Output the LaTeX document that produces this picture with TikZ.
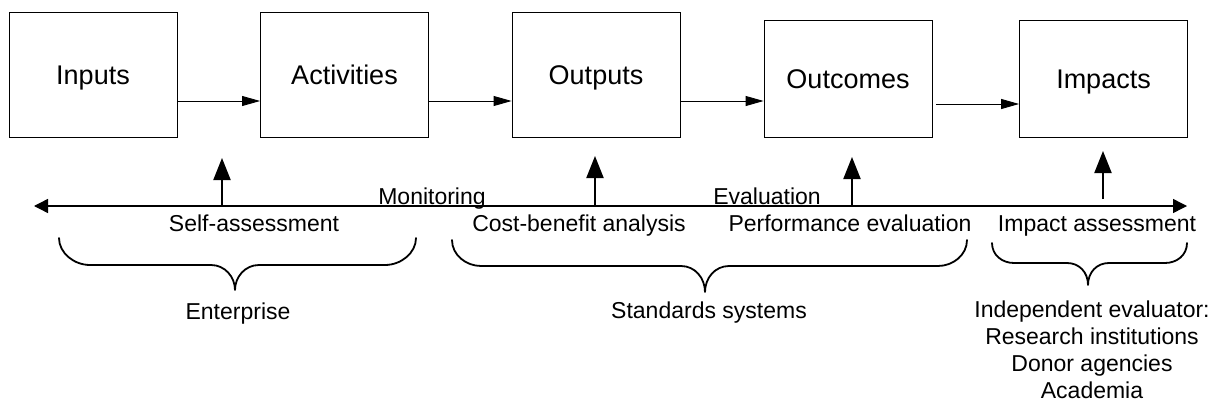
\documentclass[tikz,border=0pt]{standalone}
\usepackage{fontspec}
\setmainfont{Liberation Sans}
\usetikzlibrary{arrows.meta}
\begin{document}
\begin{tikzpicture}[x=1pt,y=-1pt,
  stagebox/.style={draw=black, line width=0.9pt, minimum width=168pt, inner sep=0pt,
    font=\fontsize{27}{32}\selectfont, text height=19.5pt, text depth=0pt},
  flow/.style={line width=0.9pt, -{Triangle[length=18pt,width=10pt]}},
  axisline/.style={line width=1.4pt, {Triangle[length=14pt,width=14pt]}-{Triangle[length=14pt,width=14pt]}},
  upar/.style={line width=2pt, -{Triangle[length=22pt,width=17pt]}},
  lbl/.style={inner sep=0pt, anchor=base, font=\fontsize{23}{27}\selectfont},
  brace/.style={line width=1.8pt, line join=round, line cap=round}
]
\useasboundingbox (0,0) rectangle (1212,404);

% stage boxes
\node[stagebox, minimum height=125pt] (inp)  at (93,74.5)    {Inputs};
\node[stagebox, minimum height=125pt] (act)  at (344.5,74.5) {Activities};
\node[stagebox, minimum height=125pt] (outp) at (596,74.5)   {Outputs};
\node[stagebox, minimum height=117pt] (outc) at (848,78.5)   {Outcomes};
\node[stagebox, minimum height=117pt] (imp)  at (1103.5,78.5){Impacts};

% flow arrows
\draw[flow] ([yshift=-26.5pt]inp.east)  -- ([yshift=-26.5pt]act.west);
\draw[flow] ([yshift=-26.5pt]act.east)  -- ([yshift=-26.5pt]outp.west);
\draw[flow] ([yshift=-26.5pt]outp.east) -- ([yshift=-22.5pt]outc.west);
\draw[flow] ([xshift=4pt,yshift=-25.5pt]outc.east) -- ([yshift=-25.5pt]imp.west);

% main axis
\coordinate (axL) at (34,206);
\coordinate (axR) at (1187,206);
\draw[axisline] (axL) -- (axR);

% vertical arrows
\coordinate (b1) at (222,206);  \coordinate (t1) at (222,158);
\coordinate (b2) at (595,206);  \coordinate (t2) at (595,156);
\coordinate (b3) at (852,206);  \coordinate (t3) at (852,157);
\coordinate (b4) at (1103,199); \coordinate (t4) at (1103,151);
\draw[upar] (b1) -- (t1);
\draw[upar] (b2) -- (t2);
\draw[upar] (b3) -- (t3);
\draw[upar] (b4) -- (t4);

% labels on axis
\node[lbl] (mon)  at (432,204)  {Monitoring};
\node[lbl] (eva)  at (767,204)  {Evaluation};
\node[lbl] (self) at (254,231)  {Self-assessment};
\node[lbl] (cba)  at (579,231)  {Cost-benefit analysis};
\node[lbl] (perf) at (850,231)  {Performance evaluation};
\node[lbl] (impa) at (1097,231) {Impact assessment};

% braces
\draw[brace] (59,238) .. controls (59,253) and (74,265) .. (90,265) -- (211,265)
  .. controls (225,265) and (235,277) .. (235,290)
  .. controls (235,277) and (245,265) .. (259,265) -- (385,265)
  .. controls (401,265) and (416,253) .. (416,238);
\draw[brace] (452,240) .. controls (452,255) and (466,266) .. (481,266) -- (681,266)
  .. controls (695,266) and (705,278) .. (705,292)
  .. controls (705,278) and (715,266) .. (729,266) -- (938,266)
  .. controls (953,266) and (967,255) .. (967,240);
\draw[brace] (992,243) .. controls (992,255) and (1002,263) .. (1014,263) -- (1067,263)
  .. controls (1079,263) and (1088,272) .. (1088,285)
  .. controls (1088,272) and (1097,263) .. (1109,263) -- (1165,263)
  .. controls (1177,263) and (1187,255) .. (1187,243);

% group labels
\node[lbl] (ent) at (238,319) {Enterprise};
\node[lbl] (std) at (709,318) {Standards systems};
\node[lbl, anchor=north, align=center] (ind) at (1092,301)
  {Independent evaluator:\\Research institutions\\Donor agencies\\Academia};
\end{tikzpicture}
\end{document}
